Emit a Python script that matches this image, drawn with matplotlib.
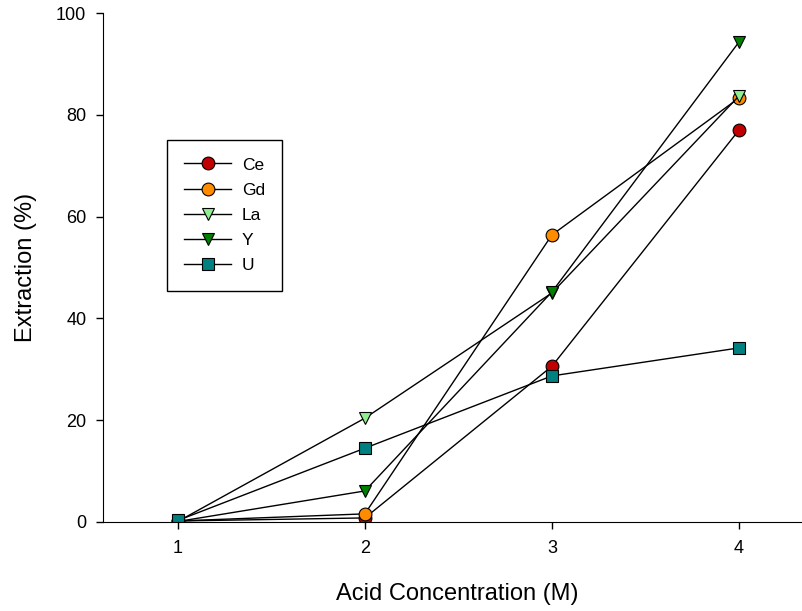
import matplotlib
matplotlib.use("Agg")
import matplotlib.pyplot as plt

plt.rcParams['font.family'] = ['Liberation Sans', 'DejaVu Sans']

conc = [1, 2, 3, 4]
ce = [0.2, 0.8, 30.6, 77.0]
gd = [0.2, 1.6, 56.4, 83.3]
la = [0.1, 20.4, 45.0, 83.7]
y_ = [0.1, 6.1, 45.2, 94.3]
u = [0.3, 14.5, 28.7, 34.2]

series = [
    ("Ce", ce, 'o', '#c00000'),
    ("Gd", gd, 'o', '#ff8c00'),
    ("La", la, 'v', '#90ee90'),
    ("Y", y_, 'v', '#008000'),
    ("U", u, 's', '#008080'),
]

fig = plt.figure(figsize=(8.02, 6.11), dpi=100)
ax = fig.add_axes([103/802, 1 - 522/611, 1 - 103/802, 509/611])

for name, vals, m, c in series:
    ax.plot(conc, vals, color='black', lw=1, marker=m, markersize=9.2 if m != 's' else 8,
            markerfacecolor=c, markeredgecolor='black', markeredgewidth=0.8, label=name)

ax.set_xlim(0.6, 4.337)
ax.set_ylim(0, 100)
ax.set_xticks(conc)
ax.set_yticks([0, 20, 40, 60, 80, 100])
ax.spines['top'].set_visible(False)
ax.spines['right'].set_visible(False)
ax.tick_params(direction='out', length=5, width=1, labelsize=13)
ax.tick_params(axis='x', pad=8)
ax.tick_params(axis='y', pad=7)
ax.set_xlabel('Acid Concentration (M)', fontsize=17)
ax.set_ylabel('Extraction (%)', fontsize=17)
ax.xaxis.set_label_coords(0.507, -0.12)
ax.yaxis.set_label_coords(-0.094, 0.5)

leg = ax.legend(loc='upper left', bbox_to_anchor=(0.0916, 0.7505), borderaxespad=0,
                fancybox=False, edgecolor='black', framealpha=1, fontsize=12.5,
                handlelength=2.7, handletextpad=0.6, borderpad=1.0, labelspacing=0.58)
leg.get_frame().set_linewidth(1)

fig.savefig('out.png', dpi=100)
